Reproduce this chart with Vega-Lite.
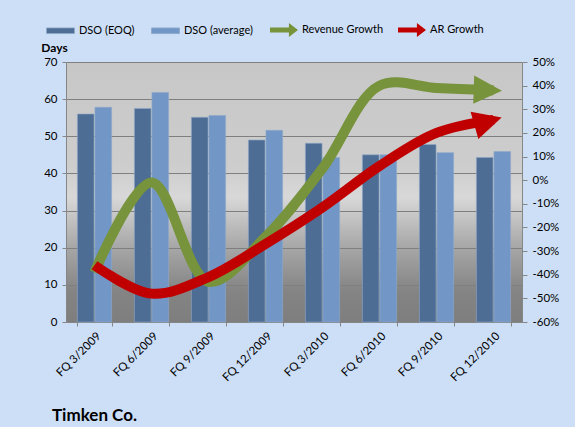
{
  "$schema": "https://vega.github.io/schema/vega-lite/v6.json",
  "width": 456,
  "height": 260,
  "autosize": {"type": "none"},
  "padding": {"left": 66, "top": 62, "right": 53, "bottom": 105},
  "background": "#cddff7",
  "title": {"text": "Timken Co.", "orient": "bottom", "anchor": "start", "frame": "group", "dx": -14, "offset": 25, "fontSize": 17, "fontWeight": "bold", "font": "Lato", "color": "#000000"},
  "data": {"values": [
    {"period": "FQ 3/2009", "series": "DSO (EOQ)", "value": 56},
    {"period": "FQ 6/2009", "series": "DSO (EOQ)", "value": 57.5},
    {"period": "FQ 9/2009", "series": "DSO (EOQ)", "value": 55.1},
    {"period": "FQ 12/2009", "series": "DSO (EOQ)", "value": 49},
    {"period": "FQ 3/2010", "series": "DSO (EOQ)", "value": 48.1},
    {"period": "FQ 6/2010", "series": "DSO (EOQ)", "value": 45},
    {"period": "FQ 9/2010", "series": "DSO (EOQ)", "value": 47.8},
    {"period": "FQ 12/2010", "series": "DSO (EOQ)", "value": 44.3},
    {"period": "FQ 3/2009", "series": "DSO (average)", "value": 57.8},
    {"period": "FQ 6/2009", "series": "DSO (average)", "value": 61.8},
    {"period": "FQ 9/2009", "series": "DSO (average)", "value": 55.6},
    {"period": "FQ 12/2009", "series": "DSO (average)", "value": 51.6},
    {"period": "FQ 3/2010", "series": "DSO (average)", "value": 44.3},
    {"period": "FQ 6/2010", "series": "DSO (average)", "value": 45},
    {"period": "FQ 9/2010", "series": "DSO (average)", "value": 45.6},
    {"period": "FQ 12/2010", "series": "DSO (average)", "value": 45.9},
    {"period": "FQ 3/2009", "series": "Revenue Growth", "value": -39},
    {"period": "FQ 6/2009", "series": "Revenue Growth", "value": -1},
    {"period": "FQ 9/2009", "series": "Revenue Growth", "value": -43},
    {"period": "FQ 12/2009", "series": "Revenue Growth", "value": -24},
    {"period": "FQ 3/2010", "series": "Revenue Growth", "value": 5},
    {"period": "FQ 6/2010", "series": "Revenue Growth", "value": 40},
    {"period": "FQ 9/2010", "series": "Revenue Growth", "value": 39},
    {"period": "FQ 12/2010", "series": "Revenue Growth", "value": 38},
    {"period": "FQ 3/2009", "series": "AR Growth", "value": -36},
    {"period": "FQ 6/2009", "series": "AR Growth", "value": -48},
    {"period": "FQ 9/2009", "series": "AR Growth", "value": -41},
    {"period": "FQ 12/2009", "series": "AR Growth", "value": -27},
    {"period": "FQ 3/2010", "series": "AR Growth", "value": -11.5},
    {"period": "FQ 6/2010", "series": "AR Growth", "value": 6},
    {"period": "FQ 9/2010", "series": "AR Growth", "value": 20},
    {"period": "FQ 12/2010", "series": "AR Growth", "value": 25.5}
  ]},
  "encoding": {
    "x": {
      "field": "period", "type": "nominal", "sort": null,
      "scale": {"paddingInner": 0.4, "paddingOuter": 0.2},
      "axis": {"title": null, "labelAngle": -45, "labelFontSize": 11.5, "labelColor": "#000000", "tickBand": "extent", "tickSize": 4, "tickColor": "#868686", "domainColor": "#868686", "labelPadding": 4}
    }
  },
  "layer": [
    {
      "transform": [{"filter": "datum.series === 'DSO (EOQ)' || datum.series === 'DSO (average)'"}],
      "mark": {"type": "bar", "stroke": "#8ea8c8", "strokeWidth": 0.6},
      "encoding": {
        "xOffset": {"field": "series", "type": "nominal", "scale": {"domain": ["DSO (EOQ)", "DSO (average)"], "paddingInner": 0.05}},
        "y": {
          "field": "value", "type": "quantitative",
          "scale": {"domain": [0, 70], "nice": false},
          "axis": {"title": "Days", "titleAngle": 0, "titleX": -12, "titleY": -8, "titleAlign": "center", "titleBaseline": "bottom", "titleFontSize": 12, "titleFontWeight": "bold", "titleColor": "#000000", "values": [0, 10, 20, 30, 40, 50, 60, 70], "labelOverlap": false, "labelFontSize": 11.5, "labelColor": "#000000", "grid": true, "gridColor": "#7f7f7f", "gridWidth": 1, "domainColor": "#868686", "tickColor": "#868686", "tickSize": 4, "labelPadding": 5}
        },
        "color": {
          "field": "series", "type": "nominal",
          "scale": {"domain": ["DSO (EOQ)", "DSO (average)"], "range": ["#4d6d94", "#7297c6"]},
          "legend": {
            "title": null, "orient": "none", "legendX": -20, "legendY": -46, "direction": "horizontal", "columns": 2,
            "labelFontSize": 11, "labelColor": "#000000", "labelFont": "Lato", "columnPadding": 14, "labelOffset": 4,
            "symbolSize": 784, "symbolType": "M-1,-0.2H1V0.2H-1Z", "symbolStrokeColor": "#8ea8c8", "symbolStrokeWidth": 0.8, "symbolOpacity": 1
          }
        }
      }
    },
    {
      "encoding": {
        "y": {
          "field": "value", "type": "quantitative",
          "scale": {"domain": [-60, 50], "nice": false},
          "axis": {"orient": "right", "title": null, "values": [-60, -50, -40, -30, -20, -10, 0, 10, 20, 30, 40, 50], "labelOverlap": false, "labelExpr": "datum.value + '%'", "labelFontSize": 11.5, "labelColor": "#000000", "grid": false, "domainColor": "#868686", "tickColor": "#868686", "tickSize": 5, "labelPadding": 5}
        }
      },
      "layer": [
        {
          "transform": [{"filter": "datum.series === 'Revenue Growth'"}],
          "mark": {"type": "line", "interpolate": "catmull-rom", "strokeWidth": 10, "strokeCap": "butt"},
          "encoding": {
            "stroke": {"field": "series", "type": "nominal", "scale": {"domain": ["AR Growth", "Revenue Growth"], "range": ["#c00000", "#77933c"]}, "legend": null}
          }
        },
        {
          "transform": [{"filter": "datum.series === 'AR Growth'"}],
          "mark": {"type": "line", "interpolate": "catmull-rom", "strokeWidth": 10, "strokeCap": "butt"},
          "encoding": {
            "stroke": {"field": "series", "type": "nominal", "legend": null}
          }
        },
        {
          "transform": [{"filter": "datum.period === 'FQ 12/2010' && (datum.series === 'Revenue Growth' || datum.series === 'AR Growth')"}],
          "mark": {"type": "point", "filled": true, "opacity": 1, "strokeWidth": 0, "shape": "M0.6,0L-1.4,-1L-1.4,1Z", "size": 800},
          "encoding": {
            "fill": {
              "field": "series", "type": "nominal",
              "scale": {"domain": ["Revenue Growth", "AR Growth"], "range": ["#77933c", "#c00000"]},
              "legend": {
                "title": null, "orient": "none", "legendX": 204, "legendY": -46, "direction": "horizontal", "columns": 2,
                "labelFontSize": 11, "labelColor": "#000000", "labelFont": "Lato", "columnPadding": 14, "labelOffset": 4,
                "symbolSize": 784, "symbolType": "M-1,-0.17H0.35V-0.5L1,0L0.35,0.5V0.17H-1Z", "symbolStrokeWidth": 0, "symbolOpacity": 1
              }
            },
            "angle": {"condition": {"test": "datum.series === 'AR Growth'", "value": -16}, "value": 2}
          }
        }
      ]
    }
  ],
  "resolve": {"scale": {"y": "independent"}},
  "config": {
    "font": "Lato",
    "view": {"stroke": null, "fill": {"gradient": "linear", "x1": 0, "y1": 0, "x2": 0, "y2": 1, "stops": [
      {"offset": 0, "color": "#c7c7c7"},
      {"offset": 0.4, "color": "#cdcdcd"},
      {"offset": 0.52, "color": "#d8d8d8"},
      {"offset": 0.7, "color": "#aaaaaa"},
      {"offset": 0.88, "color": "#848484"},
      {"offset": 1, "color": "#7e7e7e"}
    ]}}
  }
}
